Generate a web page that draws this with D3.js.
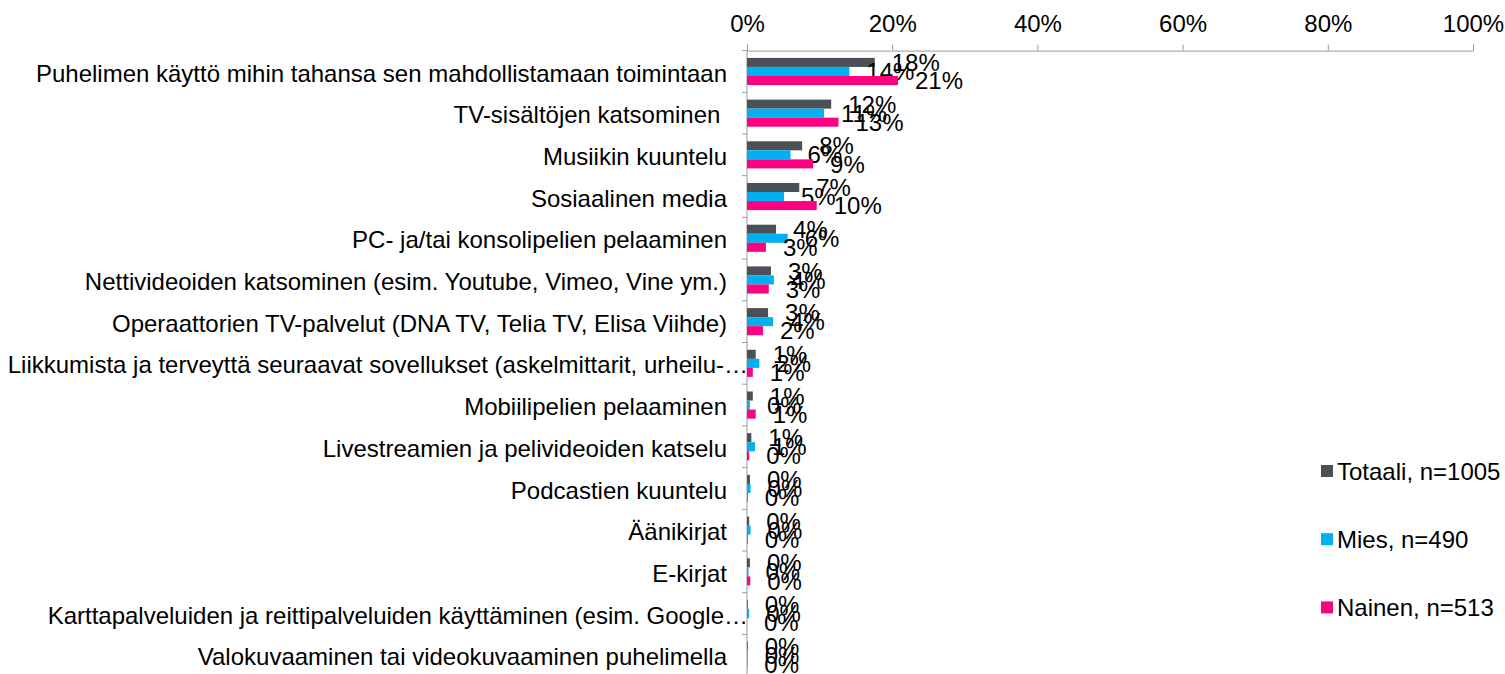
<!DOCTYPE html>
<html>
<head>
<meta charset="utf-8">
<script src="https://cdn.jsdelivr.net/npm/d3@7"></script>
<style>
  body { margin: 0; background: #fff; }
  svg { display: block; font-family: "Liberation Sans", Arial, sans-serif; }
  .cat { font-size: 24px; fill: #000; white-space: pre; }
  .val { font-size: 24px; fill: #000; }
  .axis text { font-size: 24px; fill: #000; font-family: "Liberation Sans", Arial, sans-serif; }
  .axis path, .axis line { stroke: #9a9a9a; }
  .legend text { font-size: 24px; fill: #000; }
</style>
</head>
<body>
<div id="container"></div>
<script>

//---------------------
// DATA
//---------------------

const categories = [
  'Puhelimen käyttö mihin tahansa sen mahdollistamaan toimintaan',
  'TV-sisältöjen katsominen ',
  'Musiikin kuuntelu',
  'Sosiaalinen media',
  'PC- ja/tai konsolipelien pelaaminen',
  'Nettivideoiden katsominen (esim. Youtube, Vimeo, Vine ym.)',
  'Operaattorien TV-palvelut (DNA TV, Telia TV, Elisa Viihde)',
  'Liikkumista ja terveyttä seuraavat sovellukset (askelmittarit, urheilu-…',
  'Mobiilipelien pelaaminen',
  'Livestreamien ja pelivideoiden katselu',
  'Podcastien kuuntelu',
  'Äänikirjat',
  'E-kirjat',
  'Karttapalveluiden ja reittipalveluiden käyttäminen (esim. Google…',
  'Valokuvaaminen tai videokuvaaminen puhelimella'
];

const seriesNames = ['Totaali, n=1005', 'Mies, n=490', 'Nainen, n=513'];

// percent values
const totaali = [17.6, 11.6, 7.6, 7.2, 4.0, 3.3, 2.9, 1.2, 0.8, 0.6, 0.4, 0.3, 0.4, 0.1, 0.1];
const mies    = [14.1, 10.6, 6.0, 5.1, 5.6, 3.7, 3.6, 1.7, 0.4, 1.1, 0.49, 0.49, 0.2, 0.3, 0.1];
const nainen  = [20.8, 12.6, 9.1, 9.6, 2.6, 3.0, 2.2, 0.8, 1.2, 0.3, 0.1, 0.1, 0.45, 0.0, 0.05];

const xTicks = [0, 20, 40, 60, 80, 100];

const colors = ['#4b5056', '#00b0f0', '#ff0080'];

//---------------------
// LAYOUT
//---------------------

const W = 1505, H = 674;
const margin = { top: 50.6, left: 747 };
const plotW = 726;
const plotH = 15 * 41.7;

const svg = d3.select('#container')
              .append('svg')
              .attr('width', W)
              .attr('height', H);

const g = svg.append('g')
             .attr('transform', `translate(${margin.left}, ${margin.top})`);

const x = d3.scaleLinear().domain([0, 100]).range([0, plotW]);

const y = d3.scaleBand()
            .domain(categories)
            .range([0, plotH])
            .paddingInner(0.35)
            .paddingOuter(0.175);

const ySub = d3.scaleBand()
               .domain(seriesNames)
               .range([0, y.bandwidth()]);

const series = [totaali, mies, nainen];

//---------------------
// AXES
//---------------------

const axisTop = d3.axisTop(x)
                  .tickValues(xTicks)
                  .tickFormat(d => d + '%')
                  .tickSizeInner(6)
                  .tickSizeOuter(6)
                  .tickPadding(13);

g.append('g')
 .attr('class', 'axis')
 .call(axisTop);

// category axis with ticks on band boundaries
const yAxisG = g.append('g').attr('class', 'axis');
yAxisG.append('line')
      .attr('x1', 0).attr('x2', 0)
      .attr('y1', 0).attr('y2', plotH);
yAxisG.selectAll('line.tick')
      .data(d3.range(categories.length + 1))
      .enter()
      .append('line')
      .attr('class', 'tick')
      .attr('x1', -5).attr('x2', 0)
      .attr('y1', i => i * plotH / categories.length)
      .attr('y2', i => i * plotH / categories.length);

// category labels (truncated ones run up to the axis)
g.selectAll('text.cat')
 .data(categories)
 .enter()
 .append('text')
 .attr('class', 'cat')
 .attr('x', d => d.endsWith('…') ? 1 : -20)
 .attr('y', d => y(d) + y.bandwidth() / 2)
 .attr('dy', '0.42em')
 .attr('text-anchor', 'end')
 .text(d => d);

//---------------------
// BARS
//---------------------

series.forEach((vals, si) => {
  const rows = categories.map((c, i) => ({ cat: c, v: vals[i] }));
  const sg = g.append('g');

  sg.selectAll('rect')
    .data(rows)
    .enter()
    .append('rect')
    .attr('x', 0)
    .attr('y', d => y(d.cat) + ySub(seriesNames[si]))
    .attr('width', d => x(d.v))
    .attr('height', ySub.bandwidth())
    .attr('fill', colors[si]);

  sg.selectAll('text')
    .data(rows)
    .enter()
    .append('text')
    .attr('class', 'val')
    .attr('x', d => x(d.v) + 17)
    .attr('y', d => y(d.cat) + ySub(seriesNames[si]) + ySub.bandwidth() / 2)
    .attr('dy', '0.36em')
    .text(d => Math.round(d.v) + '%');
});

//---------------------
// LEGEND
//---------------------

const legend = svg.append('g')
                  .attr('class', 'legend')
                  .attr('transform', 'translate(1321, 471)');

const item = legend.selectAll('g')
                   .data(seriesNames)
                   .enter()
                   .append('g')
                   .attr('transform', (d, i) => `translate(0, ${i * 68.2})`);

item.append('rect')
    .attr('x', 0).attr('y', -6)
    .attr('width', 12).attr('height', 12)
    .attr('fill', (d, i) => colors[i]);

item.append('text')
    .attr('x', 16)
    .attr('dy', '0.36em')
    .text(d => d);

</script>
</body>
</html>
